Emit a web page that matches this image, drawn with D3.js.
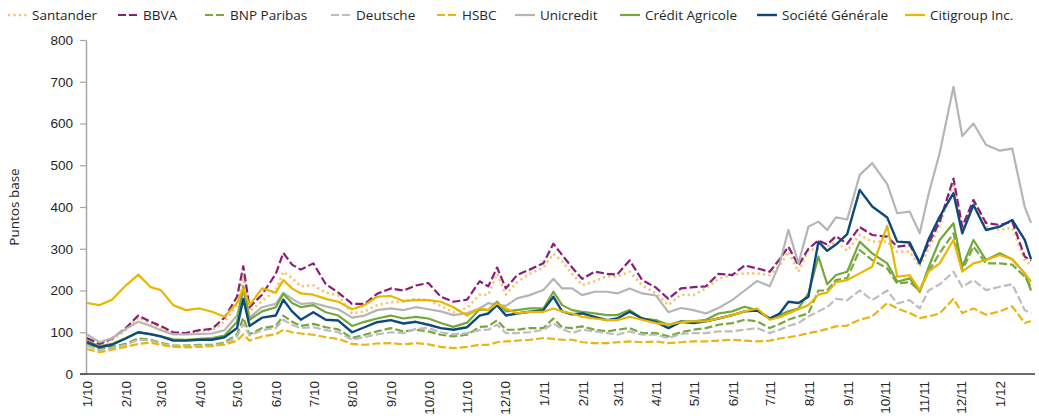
<!DOCTYPE html>
<html>
<head>
<meta charset="utf-8">
<script src="https://cdn.jsdelivr.net/npm/d3@7"></script>
<style>
  body { margin: 0; background: #fff; }
  svg { font-family: 'Open Sans', sans-serif; }
  .axis text { fill: #262626; font-size: 13.5px; }
</style>
</head>
<body>
<div id="chart"></div>
<script>
// dates of the sampled points
const dates = [
  '2010-01-01','2010-01-11','2010-01-21','2010-02-01','2010-02-11','2010-02-21','2010-03-01','2010-03-11','2010-03-21',
  '2010-04-01','2010-04-11','2010-04-21','2010-05-01','2010-05-06','2010-05-11','2010-05-21','2010-06-01','2010-06-07',
  '2010-06-14','2010-06-21','2010-07-01','2010-07-11','2010-07-21','2010-08-01','2010-08-11','2010-08-21','2010-09-01',
  '2010-09-11','2010-09-21','2010-10-01','2010-10-11','2010-10-21','2010-11-01','2010-11-11','2010-11-18','2010-11-25',
  '2010-12-02','2010-12-11','2010-12-21',
  '2011-01-01','2011-01-09','2011-01-16','2011-01-24','2011-02-01','2011-02-11','2011-02-21','2011-03-01','2011-03-11',
  '2011-03-21','2011-04-01','2011-04-11','2011-04-21','2011-05-01','2011-05-11','2011-05-21','2011-06-01','2011-06-11',
  '2011-06-21','2011-07-01','2011-07-09','2011-07-16','2011-07-24','2011-08-01','2011-08-09','2011-08-16','2011-08-23',
  '2011-09-01','2011-09-11','2011-09-21','2011-10-03','2011-10-11','2011-10-21','2011-10-29','2011-11-05','2011-11-14',
  '2011-11-25','2011-12-02','2011-12-11','2011-12-21',
  '2012-01-01','2012-01-11','2012-01-21','2012-01-26'
];

const santander = [
  85,70,82, 105,135,120, 110,98,97, 103,105,125, 165,235,150,175, 200,245,230,210, 212,195,188, 145,150,165, 172,173,180, 177,163,148, 158,190,190,240, 190,220,240,
  255,288,270,240, 213,222,235, 233,245,212, 193,165,190, 189,205,228, 237,241,241, 237,260,293,245, 297,300,305,317, 295,333,317, 317,293,293,257, 300,355,457, 337,409,353,
  345,350,273,261
];
const bbva = [
  86,72,85, 110,140,125, 115,100,98, 105,108,135, 185,258,160,190, 240,290,262,250, 265,215,195, 168,168,192, 205,200,212, 218,185,173, 178,222,210,255, 205,237,250,
  265,312,285,255, 228,245,240, 238,272,225, 207,180,205, 208,210,240, 237,260,253, 245,275,305,260, 300,320,310,330, 312,352,333, 329,305,309,268, 312,365,468, 353,417,362,
  357,365,281,272
];
const bnp = [
  70,60,65, 72,85,82, 75,68,68, 70,70,75, 95,135,95,110, 115,140,125,115, 120,112,107, 86,94,102, 110,102,106, 102,94,90, 94,113,114,129, 106,106,110,
  110,133,112,110, 114,106,102, 106,110,98, 98,90,100, 106,110,118, 122,130,126, 110,120,130,138, 145,200,200,225, 230,297,273, 253,217,220,200, 245,290,337, 249,305,265,
  265,262,233,209
];
const deutsche = [
  68,57,62, 70,82,80, 73,66,66, 68,68,72, 90,120,92,105, 110,130,118,110, 112,105,100, 82,88,95, 100,98,108, 110,100,95, 98,105,106,118, 98,98,100,
  106,121,108,98, 106,102,98, 94,102,94, 94,86,96, 98,98,102, 102,106,110, 98,106,115,122, 138,150,160,180, 177,200,177, 200,169,177,157, 200,215,245, 209,225,201,
  209,215,153,145
];
const hsbc = [
  60,52,58, 65,72,75, 70,65,64, 65,67,70, 80,95,80,90, 95,106,100,97, 94,88,84, 72,70,73, 74,71,74, 71,65,62, 65,70,70,76, 78,80,82,
  86,84,82,82, 76,74,74, 76,78,76, 78,74,76, 78,78,80, 82,80,78, 80,85,88,92, 98,102,108,114, 116,130,138, 170,157,146,134, 138,145,180, 146,157,142,
  150,162,122,127
];
const unicredit = [
  95,76,86, 108,125,115, 105,95,95, 96,97,105, 140,200,135,160, 168,195,180,168, 170,162,155, 135,140,153, 157,153,160, 155,150,141, 146,157,170,165, 163,181,189,
  201,228,205,205, 189,197,197, 193,205,193, 188,148,158, 153,145,158, 177,200,223, 210,265,345,265, 353,365,345,375, 370,477,505, 455,385,389,337, 430,530,688, 570,600,549,
  535,540,400,362
];
const creditAgricole = [
  80,66,72, 86,100,96, 90,83,82, 84,86,92, 125,210,130,150, 160,192,170,160, 165,148,140, 115,125,133, 140,133,137, 133,122,113, 123,155,153,173, 150,153,157,
  157,197,165,153, 149,145,141, 141,153,133, 129,118,126, 126,130,145, 150,161,153, 133,141,150,157, 193,281,215,237, 245,317,289, 265,221,229,197, 255,321,361, 257,321,273,
  289,275,241,200
];
const societeGenerale = [
  76,64,70, 85,100,95, 90,80,80, 82,82,88, 110,180,115,135, 140,178,150,130, 148,130,128, 100,112,124, 129,121,125, 118,110,106, 112,140,145,165, 140,145,149,
  153,185,150,143, 145,137,129, 133,149,133, 125,110,125, 122,126,133, 141,150,152, 133,145,173,170, 185,317,295,310, 335,441,401, 375,317,315,265, 322,377,433, 337,405,345,
  353,369,321,275
];
const citigroup = [
  170,165,178, 212,238,208, 201,165,153, 157,149,137, 170,205,165,205, 195,225,205,193, 190,180,173, 155,165,185, 187,175,177, 177,173,160, 140,157,153,169, 157,145,149,
  149,157,150,145, 137,133,129, 129,137,130, 122,118,124, 126,126,133, 141,150,157, 130,136,145,155, 165,190,195,220, 225,241,257, 355,233,237,201, 245,265,321, 245,265,273,
  285,275,241,221
];

const yTicks = [0, 100, 200, 300, 400, 500, 600, 700, 800];
const monthTicks = ['1/10','2/10','3/10','4/10','5/10','6/10','7/10','8/10','9/10','10/10','11/10','12/10',
  '1/11','2/11','3/11','4/11','5/11','6/11','7/11','8/11','9/11','10/11','11/11','12/11','1/12'];

const series = [
  { name: 'Santander', values: santander, color: '#F5C56B', dash: '2.2,3.2', width: 2.6, cap: 'butt' },
  { name: 'BBVA', values: bbva, color: '#8B1C78', dash: '8,3', width: 2.2 },
  { name: 'BNP Paribas', values: bnp, color: '#76A83F', dash: '8,3', width: 2.2 },
  { name: 'Deutsche', values: deutsche, color: '#BDBDBD', dash: '8,3', width: 2.2 },
  { name: 'HSBC', values: hsbc, color: '#E9B512', dash: '8,3', width: 2.2 },
  { name: 'Unicredit', values: unicredit, color: '#B5B5B5', dash: null, width: 2.2 },
  { name: 'Crédit Agricole', values: creditAgricole, color: '#73A83B', dash: null, width: 2.2 },
  { name: 'Société Générale', values: societeGenerale, color: '#0D497D', dash: null, width: 2.4 },
  { name: 'Citigroup Inc.', values: citigroup, color: '#E9B600', dash: null, width: 2.2 }
];

// legend marker positions (layout)
const legendX = [8, 118, 205, 331, 437, 515, 620, 757, 905];

const width = 1039, height = 419;
const margin = { top: 40, left: 86, bottom: 45 };
const parse = d3.timeParse('%Y-%m-%d');
const dateObjs = dates.map(parse);

const svg = d3.select('#chart').append('svg')
  .attr('width', width)
  .attr('height', height);

const x = d3.scaleTime()
  .domain([dateObjs[0], dateObjs[dateObjs.length - 1]])
  .range([87, 1031]);

const y = d3.scaleLinear()
  .domain([0, 800])
  .range([height - margin.bottom, margin.top]);

const y0 = y(0);

// y axis
const yAxis = svg.append('g')
  .attr('class', 'axis axis-y')
  .attr('transform', `translate(${margin.left},0)`)
  .call(d3.axisLeft(y).tickValues(yTicks).tickSize(6).tickPadding(7).tickSizeOuter(0));
yAxis.select('.domain').attr('stroke', '#A6A6A6').attr('stroke-width', 1.5);
yAxis.selectAll('.tick line').attr('stroke', '#A6A6A6').attr('stroke-width', 1.2);

// x axis with month ticks
const months = d3.timeMonth.range(new Date(2010, 0, 1), new Date(2012, 0, 2));
const xAxis = svg.append('g')
  .attr('class', 'axis axis-x')
  .attr('transform', `translate(0,${y0})`)
  .call(d3.axisBottom(x).tickValues(months).tickSize(0).tickPadding(0)
    .tickFormat((d, i) => monthTicks[i]));
xAxis.select('.domain').remove();
xAxis.selectAll('.tick text')
  .attr('transform', 'rotate(-90)')
  .attr('text-anchor', 'end')
  .attr('x', -7)
  .attr('y', 0)
  .attr('dy', '0.36em');

svg.append('line')
  .attr('x1', 80).attr('x2', 1035)
  .attr('y1', y0).attr('y2', y0)
  .attr('stroke', '#3a3a3a')
  .attr('stroke-width', 1.5);

svg.append('text')
  .attr('transform', `translate(19,${(y(0) + y(800)) / 2}) rotate(-90)`)
  .attr('text-anchor', 'middle')
  .attr('fill', '#262626')
  .style('font-size', '13.5px')
  .text('Puntos base');

// lines
const line = d3.line()
  .x((d, i) => x(dateObjs[i]))
  .y(d => y(d));

svg.append('g')
  .selectAll('path')
  .data(series)
  .join('path')
  .attr('fill', 'none')
  .attr('stroke', d => d.color)
  .attr('stroke-width', d => d.width)
  .attr('stroke-dasharray', d => d.dash)
  .attr('stroke-linejoin', 'round')
  .attr('d', d => line(d.values));

// legend
const legend = svg.append('g')
  .selectAll('g')
  .data(series)
  .join('g')
  .attr('transform', (d, i) => `translate(${legendX[i]},15)`);

legend.append('line')
  .attr('x1', 0).attr('x2', 20)
  .attr('stroke', d => d.color)
  .attr('stroke-width', d => d.width)
  .attr('stroke-dasharray', d => d.dash ? (d.name === 'Santander' ? '2.2,3.2' : '8,3') : null);

legend.append('text')
  .attr('x', (d, i) => i === 0 ? 24 : 25)
  .attr('dy', '0.35em')
  .attr('fill', '#262626')
  .style('font-size', '13.5px')
  .text(d => d.name);
</script>
</body>
</html>
